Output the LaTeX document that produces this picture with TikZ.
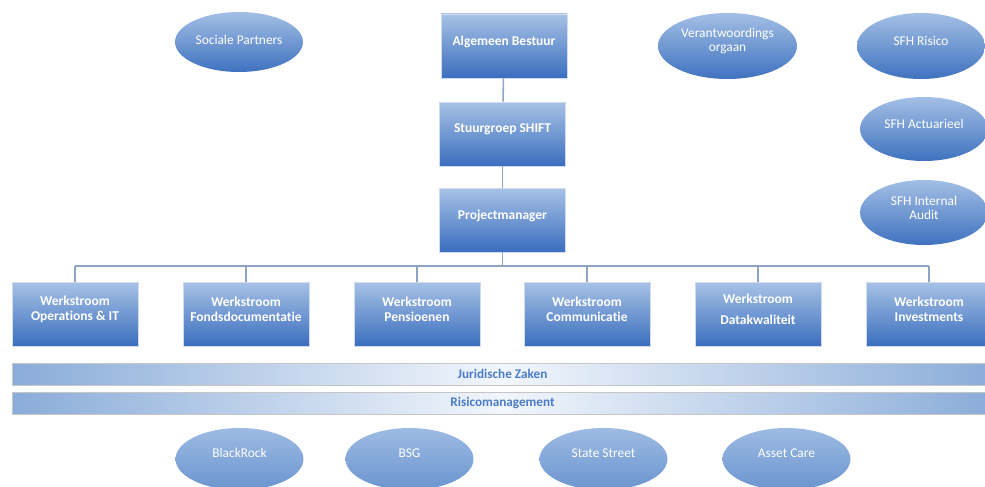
\documentclass[tikz,border=0pt]{standalone}
\usepackage{fontspec}
\setmainfont{Carlito}[Ligatures={NoCommon}]
\usetikzlibrary{shapes.geometric}
\definecolor{boxtop}{HTML}{A7C2E6}
\definecolor{boxbot}{HTML}{3A6EBE}
\definecolor{elltop}{HTML}{A3BFE5}
\definecolor{ellbot}{HTML}{3F72BF}
\definecolor{lowtop}{HTML}{9DBBE3}
\definecolor{lowbot}{HTML}{6B95CF}
\definecolor{barside}{HTML}{8AACD9}
\definecolor{barmid}{HTML}{F2F6FC}
\definecolor{bartext}{HTML}{4A7CC8}
\definecolor{conn}{HTML}{8FA4C3}
\definecolor{edge}{HTML}{D0DCEE}
\tikzset{
  boxtxt/.style={text=white, font=\fontsize{13.5}{15}\selectfont\bfseries, align=center, yshift=4.5pt},
  elltxt/.style={text=white, font=\fontsize{13.4}{14}\selectfont, align=center, yshift=5pt},
  orgbox/.style={rectangle, draw=edge, line width=0.6pt, top color=boxtop, bottom color=boxbot,
    minimum width=126pt, minimum height=64pt, inner sep=0pt},
  orgell/.style={ellipse, draw=none, top color=elltop, bottom color=ellbot,
    minimum width=128pt, minimum height=64pt, inner sep=0pt},
  lowell/.style={orgell, top color=lowtop, bottom color=lowbot, minimum height=62pt},
  bar/.style={rectangle, draw=gray!45, line width=0.6pt, left color=barside, right color=barside, middle color=barmid,
    minimum width=980pt, minimum height=22pt, inner sep=0pt},
  bartxt/.style={text=bartext, font=\fontsize{13.2}{14}\selectfont\bfseries},
  link/.style={draw=conn, line width=1.6pt}
}
\begin{document}
\begin{tikzpicture}[x=1pt,y=-1pt]
\clip (0,0) rectangle (985,487);
\fill[white] (0,0) rectangle (985,487);
% top chain
\node[orgbox, label={[boxtxt]center:Algemeen Bestuur}] (ab) at (504,46) {};
\node[orgbox, label={[boxtxt]center:Stuurgroep SHIFT}] (sg) at (502.5,134) {};
\node[orgbox, label={[boxtxt]center:Projectmanager}] (pm) at (502.5,220) {};
% werkstromen
\node[orgbox, label={[boxtxt]center:Werkstroom\\Operations \& IT}] (w1) at (75,314) {};
\node[orgbox, label={[boxtxt]center:Werkstroom\\Fondsdocumentatie}] (w2) at (246,314) {};
\node[orgbox, label={[boxtxt]center:Werkstroom\\Pensioenen}] (w3) at (417,314) {};
\node[orgbox, label={[boxtxt]center:Werkstroom\\Communicatie}] (w4) at (587,314) {};
\node[orgbox, label={[boxtxt]center:Werkstroom\\[6pt]Datakwaliteit}] (w5) at (758,314) {};
\node[orgbox, label={[boxtxt]center:Werkstroom\\Investments}] (w6) at (929,314) {};
% connectors
\coordinate (bus) at (502.5,266);
\draw[link] (ab) -- (sg);
\draw[link] (sg) -- (pm);
\draw[link] (pm) -- (bus);
\draw[link] (w1.north |- bus) -- (w6.north |- bus);
\foreach \w in {w1,w2,w3,w4,w5,w6}{\draw[link] (\w.north) -- (\w.north |- bus);}
% bars
\node[bar, anchor=west] (jz) at (12,374) {};
\node[bartxt] (jzt) at (502.5,374) {Juridische Zaken};
\node[bar, anchor=west] (rm) at (12,403) {};
\node[bartxt] (rmt) at (502.5,403) {Risicomanagement};
% ellipses top
\node[orgell, minimum height=60pt, label={[elltxt, yshift=-3pt]center:Sociale Partners}] (sp) at (239,42) {};
\node[orgell, minimum width=139pt, minimum height=66pt, label={[elltxt]center:Verantwoordings\\orgaan}] (vo) at (727.5,46) {};
\node[orgell, minimum height=66pt, label={[elltxt]center:SFH Risico}] (sr) at (921,46) {};
\node[orgell, label={[elltxt]center:SFH Actuarieel}] (sa) at (924,129) {};
\node[orgell, minimum height=65pt, label={[elltxt]center:SFH Internal\\Audit}] (si) at (924,212.5) {};
% ellipses bottom
\node[lowell, label={[elltxt, yshift=1pt]center:BlackRock}] (br) at (239.5,459) {};
\node[lowell, label={[elltxt, yshift=1pt]center:BSG}] (bsg) at (409.5,459) {};
\node[lowell, label={[elltxt, yshift=1pt]center:State Street}] (ss) at (603.5,459) {};
\node[lowell, label={[elltxt, yshift=1pt]center:Asset Care}] (ac) at (786.5,459) {};
\end{tikzpicture}
\end{document}
